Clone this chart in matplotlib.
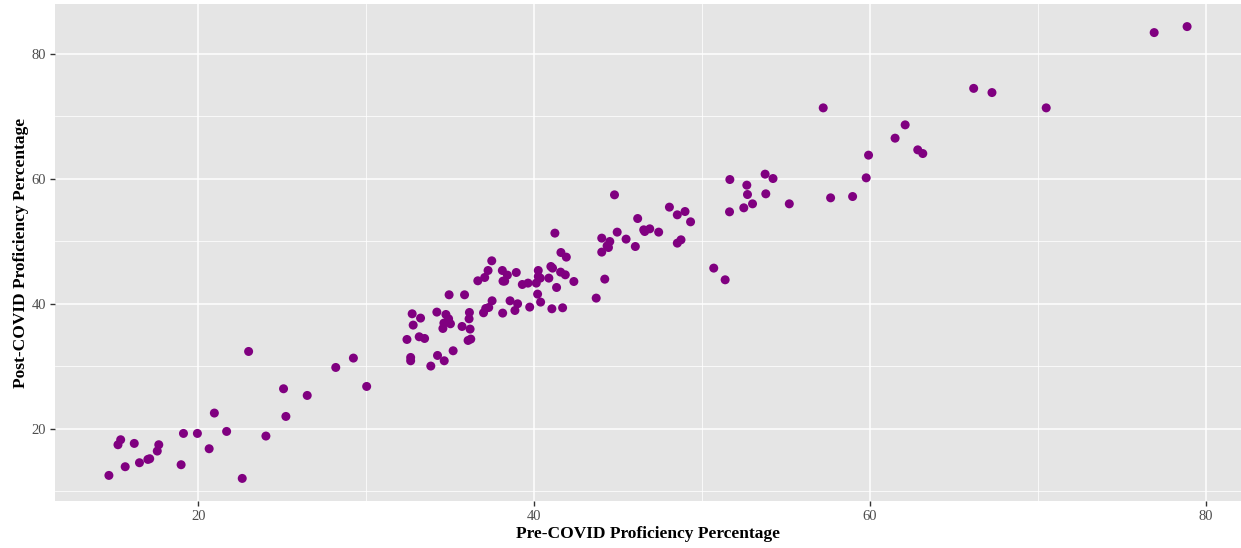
import matplotlib.pyplot as plt
from matplotlib.ticker import MultipleLocator

# pre-COVID vs post-COVID proficiency (%)
pre_covid = [
    22.99, 29.23, 28.18, 30.02, 25.07, 26.48, 20.95, 25.21, 19.11, 19.94,
    21.68, 24.02, 15.37, 15.21, 16.18, 17.64, 17.55, 20.64, 17.10, 16.99,
    16.49, 15.64, 18.97, 14.67, 22.61,
    37.47, 37.25, 37.05, 36.64, 38.10, 38.40, 38.14, 38.24, 38.93, 39.29,
    39.63, 40.24, 40.24, 40.36, 40.12, 40.87, 40.99, 41.09, 41.59, 41.91,
    41.57, 41.85, 42.36, 41.33, 44.02, 44.20, 43.69, 40.20, 40.38, 41.05,
    41.69, 39.73, 39.01, 38.56, 38.85, 38.12, 37.49, 37.29, 37.11, 36.98,
    35.85, 34.93, 36.14, 36.12, 36.18, 35.70, 36.22, 36.06, 34.20, 34.74,
    34.90, 35.01, 34.62, 34.56, 32.73, 33.23, 32.79, 32.42, 33.15, 33.47,
    32.64, 32.64, 34.24, 34.64, 33.84, 35.17,
    44.78, 48.05, 48.52, 48.98, 49.31, 46.16, 44.94, 46.52, 46.58, 46.88,
    47.41, 45.47, 46.02, 48.52, 48.74, 44.02, 44.50, 44.34, 44.42, 41.23,
    50.69, 51.37,
    57.21, 62.09, 61.49, 59.91, 62.84, 63.14, 59.77, 57.65, 58.96, 51.65,
    52.66, 53.75, 54.22, 52.70, 53.79, 53.00, 52.48, 51.63, 55.19, 67.26,
    66.17, 70.49, 76.92, 78.88,
]
post_covid = [
    32.37, 31.31, 29.81, 26.77, 26.40, 25.33, 22.51, 21.97, 19.25, 19.25,
    19.57, 18.83, 18.24, 17.44, 17.65, 17.44, 16.43, 16.80, 15.20, 15.09,
    14.56, 13.92, 14.24, 12.53, 12.05,
    46.88, 45.33, 44.21, 43.68, 45.33, 44.59, 43.63, 43.63, 45.01, 43.09,
    43.31, 45.33, 44.37, 44.11, 43.31, 44.11, 45.97, 45.71, 48.21, 47.47,
    45.07, 44.64, 43.57, 42.61, 48.27, 43.95, 40.91, 41.55, 40.27, 39.20,
    39.36, 39.47, 40.00, 40.48, 38.93, 38.51, 40.48, 39.41, 39.25, 38.56,
    41.44, 41.44, 38.61, 37.60, 35.95, 36.37, 34.35, 34.13, 38.67, 38.29,
    37.60, 36.80, 36.91, 36.05, 38.40, 37.71, 36.59, 34.29, 34.72, 34.45,
    31.41, 30.88, 31.73, 30.88, 30.03, 32.48,
    57.44, 55.47, 54.24, 54.77, 53.12, 53.65, 51.47, 51.84, 51.57, 52.00,
    51.47, 50.35, 49.17, 49.71, 50.24, 50.51, 49.97, 49.28, 49.01, 51.31,
    45.71, 43.84,
    71.36, 68.64, 66.51, 63.79, 64.64, 64.05, 60.16, 56.96, 57.17, 59.89,
    58.99, 60.75, 60.05, 57.49, 57.60, 56.00, 55.36, 54.72, 56.00, 73.81,
    74.48, 71.36, 83.41, 84.37,
]

plt.rcParams['font.family'] = ['Liberation Serif', 'DejaVu Serif']

fig = plt.figure(figsize=(12.41, 5.48), dpi=100)
ax = fig.add_axes([55 / 1241, 47 / 548, 1186 / 1241, 497 / 548])
ax.set_facecolor('#E5E5E5')

ax.scatter(pre_covid, post_covid, s=42, color='#800080', edgecolors='none', zorder=3)

# ggplot style 5% expansion
xmin, xmax = min(pre_covid), max(pre_covid)
ymin, ymax = min(post_covid), max(post_covid)
xpad = (xmax - xmin) * 0.05
ypad = (ymax - ymin) * 0.05
ax.set_xlim(xmin - xpad, xmax + xpad)
ax.set_ylim(ymin - ypad, ymax + ypad)

ax.xaxis.set_major_locator(MultipleLocator(20))
ax.yaxis.set_major_locator(MultipleLocator(20))
ax.xaxis.set_minor_locator(MultipleLocator(10))
ax.yaxis.set_minor_locator(MultipleLocator(10))
ax.grid(True, which='major', color='white', linewidth=1.1)
ax.grid(True, which='minor', color='white', linewidth=0.55)
ax.set_axisbelow(True)

for sp in ax.spines.values():
    sp.set_visible(False)
ax.tick_params(which='major', length=3.5, width=1.0, color='#333333',
               labelsize=10.5, labelcolor='#4D4D4D', pad=3)
ax.tick_params(which='minor', length=0)

ax.set_xlabel('Pre-COVID Proficiency Percentage', fontsize=12.5, fontweight='bold', labelpad=2)
ax.set_ylabel('Post-COVID Proficiency Percentage', fontsize=12.5, fontweight='bold', labelpad=1.5)

fig.savefig('out.png', dpi=100)
